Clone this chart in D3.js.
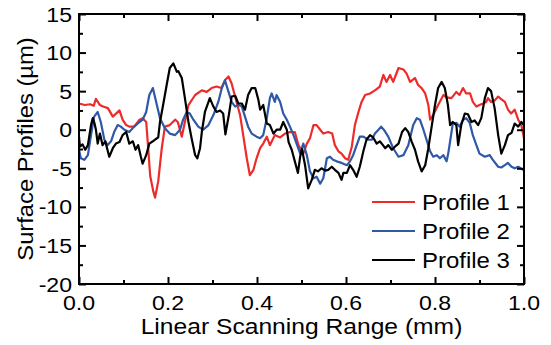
<!DOCTYPE html>
<html>
<head>
<meta charset="utf-8">
<script src="https://cdn.jsdelivr.net/npm/d3@7"></script>
<style>
  html, body { margin: 0; padding: 0; background: #fff; }
  svg { display: block; }
  text { font-family: "Liberation Sans", Arial, sans-serif; fill: #000; }
</style>
</head>
<body>
<svg id="chart" width="551" height="345"></svg>
<script>
// Surface profile traces: [scan position (mm), height (µm)]
const profile1 = [[0.000,3.4],[0.013,3.2],[0.025,3.3],[0.033,3.1],[0.038,4.0],[0.047,3.2],[0.054,3.0],[0.065,2.8],[0.076,1.7],[0.091,2.5],[0.098,1.3],[0.106,0.6],[0.113,0.4],[0.124,0.4],[0.136,1.3],[0.143,1.5],[0.151,1.0],[0.155,-2.0],[0.160,-6.0],[0.167,-8.0],[0.171,-8.8],[0.178,-6.7],[0.186,-2.4],[0.193,0.4],[0.204,0.6],[0.216,1.3],[0.222,1.0],[0.231,-0.9],[0.238,1.0],[0.246,3.2],[0.261,4.5],[0.276,5.1],[0.287,4.9],[0.298,5.4],[0.309,5.6],[0.320,5.4],[0.328,6.4],[0.336,6.9],[0.343,6.0],[0.354,3.6],[0.362,1.9],[0.369,-0.7],[0.377,-3.7],[0.384,-5.9],[0.392,-5.2],[0.399,-3.7],[0.407,-2.4],[0.414,-1.8],[0.422,-0.9],[0.429,-2.0],[0.440,-0.7],[0.452,-1.0],[0.463,-0.5],[0.474,-0.3],[0.485,-0.3],[0.493,-2.0],[0.504,-3.1],[0.512,-1.8],[0.519,-1.1],[0.527,0.6],[0.534,0.6],[0.542,0.0],[0.549,-0.5],[0.560,-0.3],[0.569,-0.5],[0.575,-2.0],[0.583,-2.8],[0.590,-3.1],[0.598,-3.7],[0.605,-3.9],[0.613,-2.2],[0.620,0.6],[0.628,2.3],[0.635,3.6],[0.643,4.5],[0.654,4.7],[0.665,5.1],[0.676,5.6],[0.684,7.1],[0.691,6.2],[0.699,7.1],[0.706,6.2],[0.718,8.0],[0.729,7.8],[0.736,7.3],[0.744,6.2],[0.755,6.7],[0.762,5.8],[0.770,5.4],[0.778,4.7],[0.785,3.2],[0.789,1.3],[0.796,1.9],[0.807,3.2],[0.819,4.5],[0.826,4.2],[0.837,4.1],[0.848,4.9],[0.855,4.5],[0.863,5.4],[0.870,4.7],[0.879,4.7],[0.885,3.6],[0.893,3.0],[0.900,3.2],[0.908,3.4],[0.915,3.6],[0.919,4.1],[0.926,3.6],[0.934,3.8],[0.942,4.3],[0.948,4.0],[0.957,3.6],[0.964,2.6],[0.971,2.1],[0.979,2.6],[0.987,1.3],[0.994,0.6],[1.000,-1.1]];

const profile2 = [[0.000,-2.6],[0.004,-3.7],[0.012,-3.9],[0.020,-3.3],[0.027,-0.7],[0.034,1.7],[0.042,2.3],[0.049,1.0],[0.057,-1.3],[0.064,-2.0],[0.072,-1.5],[0.079,-0.3],[0.087,0.6],[0.094,0.4],[0.102,0.0],[0.113,-0.3],[0.124,0.4],[0.136,1.0],[0.143,1.3],[0.151,2.3],[0.158,4.5],[0.166,5.4],[0.175,3.2],[0.182,1.5],[0.193,0.2],[0.204,-0.5],[0.216,-0.7],[0.227,0.0],[0.234,1.3],[0.242,2.3],[0.249,2.1],[0.257,1.3],[0.268,0.4],[0.279,0.0],[0.291,0.6],[0.302,1.9],[0.313,3.6],[0.321,5.4],[0.328,6.4],[0.336,4.9],[0.343,3.6],[0.351,3.0],[0.358,3.2],[0.366,3.0],[0.373,1.7],[0.380,0.4],[0.388,-0.5],[0.399,-0.9],[0.407,-1.1],[0.414,-0.7],[0.422,1.5],[0.429,4.1],[0.433,4.7],[0.440,3.6],[0.444,4.5],[0.452,3.6],[0.459,2.1],[0.467,1.3],[0.474,0.4],[0.482,-0.7],[0.489,-1.8],[0.497,-3.1],[0.504,-1.8],[0.512,-3.3],[0.519,-5.4],[0.527,-6.3],[0.534,-6.1],[0.542,-7.0],[0.549,-6.3],[0.557,-3.7],[0.564,-3.5],[0.571,-3.9],[0.579,-4.1],[0.590,-4.3],[0.602,-4.6],[0.609,-4.1],[0.616,-3.3],[0.624,-2.0],[0.631,-0.9],[0.639,-0.9],[0.650,-1.3],[0.658,-1.3],[0.665,-0.5],[0.673,0.0],[0.679,0.4],[0.685,0.0],[0.695,-0.9],[0.706,-2.4],[0.718,-3.5],[0.729,-3.3],[0.740,-2.0],[0.751,0.6],[0.759,1.5],[0.766,1.3],[0.774,0.0],[0.781,-1.3],[0.789,-2.8],[0.796,-3.5],[0.804,-3.3],[0.811,-3.7],[0.819,-3.3],[0.826,-4.1],[0.830,-3.0],[0.834,-1.5],[0.840,0.8],[0.848,0.9],[0.855,0.4],[0.863,1.3],[0.870,1.5],[0.878,0.9],[0.885,-0.7],[0.893,-2.0],[0.900,-3.1],[0.912,-3.5],[0.923,-3.3],[0.930,-3.9],[0.942,-4.8],[0.949,-4.9],[0.957,-4.6],[0.964,-4.3],[0.972,-4.8],[0.979,-5.0],[0.987,-4.8],[0.998,-5.2],[1.000,-5.2]];

const profile3 = [[0.000,-0.9],[0.002,-2.2],[0.008,-1.9],[0.014,-2.6],[0.020,-2.0],[0.027,0.6],[0.031,1.5],[0.035,0.8],[0.038,0.0],[0.042,-1.8],[0.047,-0.5],[0.053,-2.0],[0.059,-1.5],[0.068,-3.5],[0.076,-2.4],[0.083,-1.8],[0.091,-1.6],[0.098,-0.7],[0.106,-0.3],[0.113,-1.8],[0.121,-1.5],[0.127,-2.6],[0.133,-2.0],[0.139,-3.5],[0.143,-4.4],[0.151,-3.3],[0.158,-1.8],[0.166,-1.5],[0.173,-1.2],[0.178,-1.0],[0.182,1.0],[0.189,3.2],[0.197,5.8],[0.204,8.0],[0.212,8.6],[0.220,7.5],[0.223,7.6],[0.231,6.7],[0.238,4.1],[0.246,1.0],[0.253,-1.1],[0.261,-3.3],[0.266,-3.7],[0.272,-2.4],[0.276,-0.3],[0.283,2.3],[0.294,4.1],[0.302,3.0],[0.309,2.3],[0.317,2.5],[0.324,2.1],[0.329,-0.6],[0.337,2.0],[0.343,4.3],[0.351,4.4],[0.358,3.4],[0.366,3.4],[0.373,2.6],[0.380,4.5],[0.388,5.4],[0.396,5.4],[0.403,3.9],[0.407,2.6],[0.414,3.2],[0.422,0.8],[0.429,0.6],[0.437,-0.5],[0.444,0.0],[0.452,0.0],[0.459,1.0],[0.467,0.0],[0.471,-1.6],[0.478,-2.6],[0.485,-4.1],[0.492,-5.6],[0.497,-3.5],[0.501,-2.5],[0.508,-4.6],[0.515,-7.6],[0.523,-6.5],[0.530,-5.2],[0.537,-5.4],[0.545,-5.0],[0.553,-5.3],[0.560,-5.2],[0.568,-4.8],[0.575,-5.2],[0.583,-5.6],[0.590,-6.5],[0.594,-5.6],[0.602,-5.6],[0.609,-4.6],[0.616,-5.2],[0.624,-6.1],[0.631,-4.8],[0.639,-2.8],[0.646,-1.3],[0.654,-0.7],[0.661,-1.0],[0.669,-1.8],[0.676,-1.5],[0.683,-2.0],[0.688,-2.4],[0.695,-2.0],[0.703,-2.6],[0.710,-2.2],[0.718,-1.8],[0.726,-0.3],[0.733,0.2],[0.740,-0.3],[0.748,-1.6],[0.755,-2.6],[0.762,-4.1],[0.770,-5.4],[0.778,-4.6],[0.785,-2.4],[0.793,0.6],[0.800,3.2],[0.807,5.4],[0.815,6.2],[0.822,5.4],[0.829,3.2],[0.834,0.6],[0.840,1.0],[0.848,0.6],[0.852,-2.0],[0.859,0.6],[0.867,2.1],[0.874,2.0],[0.882,1.0],[0.889,1.2],[0.897,0.6],[0.904,1.5],[0.912,4.1],[0.919,5.4],[0.926,5.0],[0.934,2.8],[0.942,-0.7],[0.949,-3.1],[0.957,-2.0],[0.964,-0.7],[0.972,-0.4],[0.979,0.8],[0.987,0.4],[0.994,1.0],[1.000,0.6]];

const seriesNames = ["Profile 1", "Profile 2", "Profile 3"];
const seriesColors = ["#ee2b2b", "#2f58a6", "#000000"];
const xTicks = [0, 0.2, 0.4, 0.6, 0.8, 1.0];
const yTicks = [15, 10, 5, 0, -5, -10, -15, -20];

const margin = { left: 79, right: 27, top: 14, bottom: 61 };
const width = 551, height = 345;
const svg = d3.select("#chart");

const x = d3.scaleLinear().domain([0, 1]).range([margin.left, width - margin.right]);
const y = d3.scaleLinear().domain([-20, 15]).range([height - margin.bottom, margin.top]);

const xMinor = d3.range(0.1, 1.0, 0.2);
const yMinor = d3.range(-17.5, 15, 5);

// traces
const line = d3.line().x(d => x(d[0])).y(d => y(d[1]));
[profile1, profile2, profile3].forEach((data, i) => {
  svg.append("path")
    .datum(data)
    .attr("fill", "none")
    .attr("stroke", seriesColors[i])
    .attr("stroke-width", 2.2)
    .attr("stroke-linejoin", "round")
    .attr("d", line);
});

// axes with inward ticks, mirrored on top and right
function tickAxis(axisFn, scale, ticks, size) {
  return axisFn(scale).tickValues(ticks).tickSize(size).tickFormat("");
}
const axisG = svg.append("g");
axisG.append("g").attr("transform", `translate(0,${y(-20)})`)
  .call(tickAxis(d3.axisTop, x, xTicks, 7));
axisG.append("g").attr("transform", `translate(0,${y(-20)})`)
  .call(tickAxis(d3.axisTop, x, xMinor, 4));
axisG.append("g").attr("transform", `translate(0,${y(15)})`)
  .call(tickAxis(d3.axisBottom, x, xTicks, 7));
axisG.append("g").attr("transform", `translate(0,${y(15)})`)
  .call(tickAxis(d3.axisBottom, x, xMinor, 4));
axisG.append("g").attr("transform", `translate(${x(0)},0)`)
  .call(tickAxis(d3.axisRight, y, yTicks, 7));
axisG.append("g").attr("transform", `translate(${x(0)},0)`)
  .call(tickAxis(d3.axisRight, y, yMinor, 4));
axisG.append("g").attr("transform", `translate(${x(1)},0)`)
  .call(tickAxis(d3.axisLeft, y, yTicks, 7));
axisG.append("g").attr("transform", `translate(${x(1)},0)`)
  .call(tickAxis(d3.axisLeft, y, yMinor, 4));
axisG.selectAll(".domain").remove();
axisG.selectAll("line").attr("stroke", "#000").attr("stroke-width", 2);

// frame
svg.append("rect")
  .attr("x", x(0)).attr("y", y(15))
  .attr("width", x(1) - x(0)).attr("height", y(-20) - y(15))
  .attr("fill", "none").attr("stroke", "#000").attr("stroke-width", 2);

// slightly widened lettering
const wide = (tx, ty, s) => `translate(${tx},${ty}) scale(${s},1)`;

// tick labels
const fmtX = d3.format(".1f");
svg.append("g").selectAll("text").data(xTicks).join("text")
  .attr("transform", d => wide(x(d), y(-20) + 26, 1.1))
  .attr("text-anchor", "middle")
  .attr("font-size", 21)
  .text(d => fmtX(d));
svg.append("g").selectAll("text").data(yTicks).join("text")
  .attr("transform", d => wide(x(0) - 7, y(d) + 7.5, 1.1))
  .attr("text-anchor", "end")
  .attr("font-size", 21)
  .text(d => d);

// axis titles
svg.append("text")
  .attr("transform", wide((x(0) + x(1)) / 2, 334, 1.12))
  .attr("text-anchor", "middle")
  .attr("font-size", 22)
  .text("Linear Scanning Range (mm)");
svg.append("text")
  .attr("transform", `translate(33,${(y(15) + y(-20)) / 2}) rotate(-90) scale(1.08,1)`)
  .attr("text-anchor", "middle")
  .attr("font-size", 22)
  .text("Surface Profiles (µm)");

// legend
const legend = svg.append("g").selectAll("g").data(seriesNames).join("g")
  .attr("transform", (d, i) => `translate(372,${202 + i * 29})`);
legend.append("line")
  .attr("x1", 0).attr("x2", 43).attr("y1", 0).attr("y2", 0)
  .attr("stroke", (d, i) => seriesColors[i]).attr("stroke-width", 2.2);
legend.append("text")
  .attr("transform", wide(50, 7.5, 1.09))
  .attr("font-size", 22)
  .text(d => d);
</script>
</body>
</html>
